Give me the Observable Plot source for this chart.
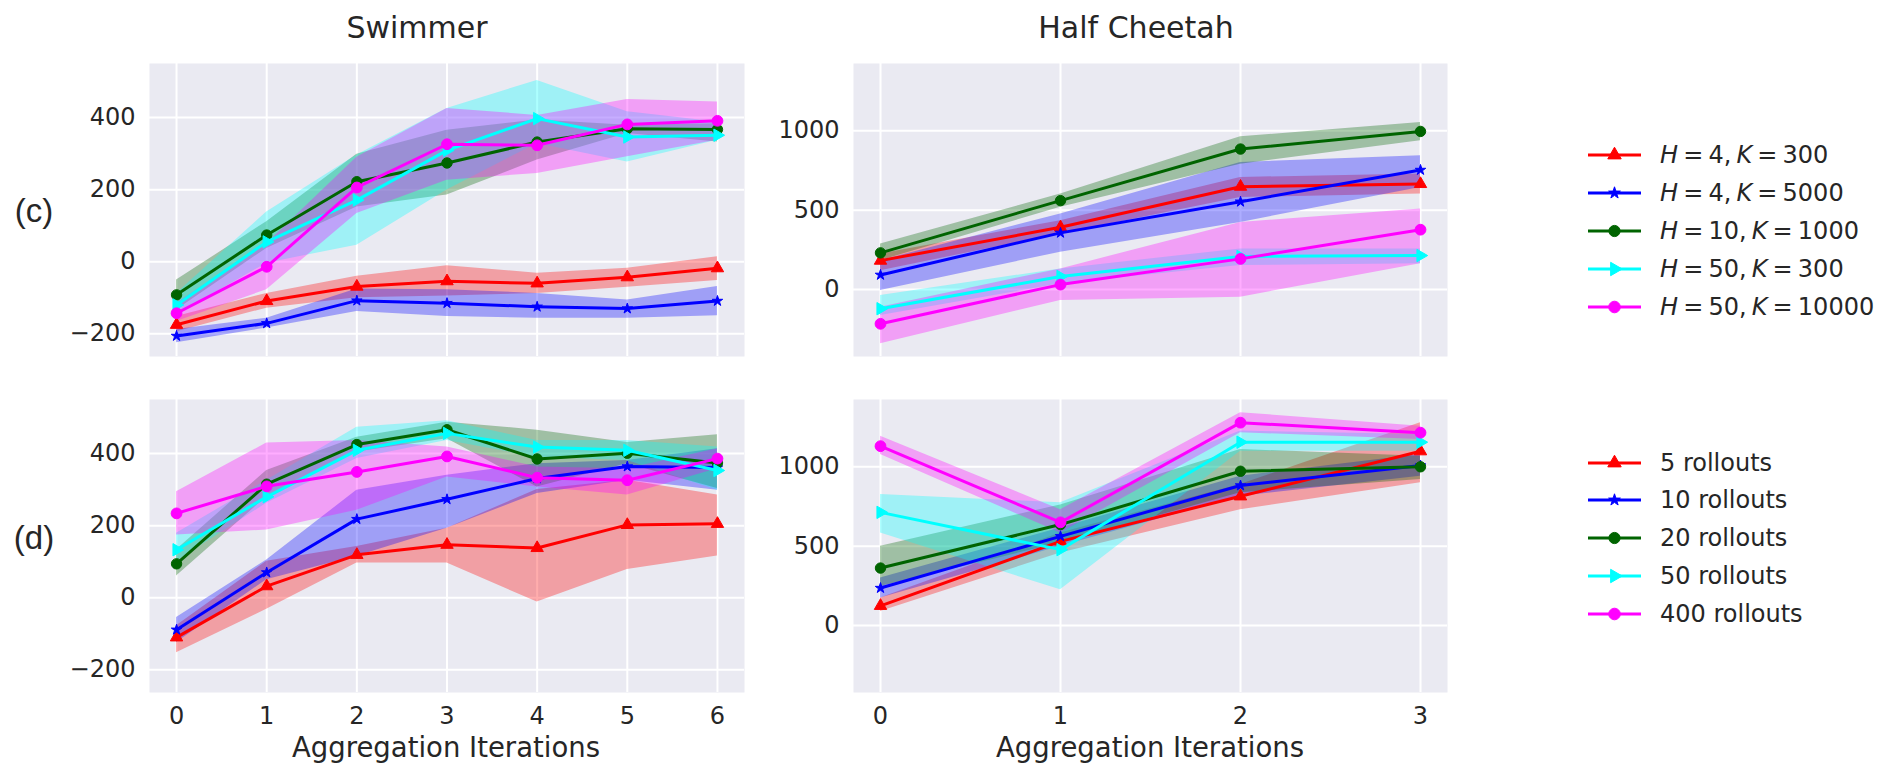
<!DOCTYPE html>
<html>
<head>
<meta charset="utf-8">
<script src="https://cdn.jsdelivr.net/npm/d3@7"></script>
<script src="https://cdn.jsdelivr.net/npm/@observablehq/plot@0.6"></script>
<style>
  body { margin: 0; background: #ffffff; }
  #root { position: relative; width: 1885px; height: 765px; overflow: hidden; font-family: "DejaVu Sans"; color: #262626; background: #ffffff; }
  .abs { position: absolute; white-space: nowrap; line-height: 1; }
  .title { font-size: 30px; transform: translate(-50%, -50%); }
  .xlabel { font-size: 27.5px; transform: translate(-50%, -50%); }
  .rowlabel { font-family: "Liberation Sans"; font-size: 33px; transform: translate(-50%, -50%); }
  .leg { font-size: 24px; display: flex; align-items: center; transform: translateY(-50%); }
  .leg svg { display: block; margin-right: 15px; }
  .math { word-spacing: -2.5px; }
  .panel { position: absolute; }
</style>
</head>
<body>
<div id="root"></div>
<script>
// ---------------- data ----------------
const iterSwimmer = [0, 1, 2, 3, 4, 5, 6];
const iterCheetah = [0, 1, 2, 3];
const ticksSwimmerY = [-200, 0, 200, 400];
const ticksCheetahY = [0, 500, 1000];

const labelsC = ["H = 4, K = 300", "H = 4, K = 5000", "H = 10, K = 1000", "H = 50, K = 300", "H = 50, K = 10000"];
const labelsD = ["5 rollouts", "10 rollouts", "20 rollouts", "50 rollouts", "400 rollouts"];
const seriesColors = ["#ff0000", "#0000ff", "#006400", "#00ffff", "#ff00ff"];

// Swimmer, row (c)
const swimC_mean = [
  [-175, -109, -69, -54, -60, -43, -18],
  [-206, -171, -108, -115, -125, -130, -109],
  [-92, 74, 222, 274, 332, 369, 367],
  [-120, 55, 171, 309, 397, 346, 351],
  [-143, -14, 206, 326, 323, 381, 391]
];
const swimC_lo = [
  [-194, -129, -100, -95, -88, -71, -52],
  [-225, -184, -138, -152, -157, -157, -150],
  [-134, 37, 152, 185, 282, 356, 332],
  [-148, -4, 46, 199, 328, 277, 337],
  [-166, -78, 134, 226, 245, 291, 337]
];
const swimC_hi = [
  [-152, -88, -40, -11, -32, -18, 14],
  [-188, -157, -76, -78, -88, -106, -69],
  [-51, 111, 298, 365, 393, 379, 383],
  [-88, 138, 296, 425, 503, 416, 388],
  [-115, 50, 290, 425, 406, 450, 443]
];

// Swimmer, row (d)
const swimD_mean = [
  [-110, 32, 119, 147, 138, 202, 205],
  [-89, 70, 218, 273, 331, 364, 361],
  [94, 315, 425, 466, 385, 401, 374],
  [133, 280, 409, 456, 418, 409, 353],
  [234, 309, 349, 392, 333, 326, 386]
];
const swimD_lo = [
  [-153, -32, 96, 96, -12, 78, 116],
  [-124, 50, 115, 193, 289, 326, 298],
  [60, 280, 404, 441, 307, 372, 303],
  [101, 262, 386, 436, 390, 381, 298],
  [174, 188, 243, 335, 307, 285, 358]
];
const swimD_hi = [
  [-78, 101, 142, 193, 300, 326, 285],
  [-55, 105, 298, 340, 372, 381, 413],
  [133, 353, 445, 487, 465, 431, 452],
  [179, 326, 473, 491, 436, 436, 418],
  [294, 429, 436, 418, 363, 358, 413]
];

// Half Cheetah, row (c)
const cheetC_mean = [
  [182, 392, 648, 665],
  [92, 357, 553, 753],
  [231, 560, 885, 996],
  [-121, 82, 208, 214],
  [-216, 31, 193, 377]
];
const cheetC_lo = [
  [119, 350, 580, 602],
  [-6, 235, 423, 643],
  [182, 518, 790, 937],
  [-164, 36, 151, 162],
  [-342, -69, -48, 162]
];
const cheetC_hi = [
  [224, 434, 706, 728],
  [182, 476, 801, 843],
  [287, 602, 962, 1052],
  [-38, 130, 256, 256],
  [-111, 130, 423, 508]
];

// Half Cheetah, row (d)
const cheetD_mean = [
  [124, 530, 814, 1098],
  [236, 562, 882, 1008],
  [362, 636, 972, 1000],
  [713, 478, 1155, 1155],
  [1130, 650, 1278, 1215]
];
const cheetD_lo = [
  [88, 457, 730, 899],
  [173, 499, 814, 941],
  [246, 520, 836, 920],
  [583, 225, 1098, 1098],
  [1078, 583, 1215, 1172]
];
const cheetD_hi = [
  [173, 583, 888, 1278],
  [299, 615, 941, 1078],
  [499, 760, 1109, 1067],
  [825, 773, 1225, 1204],
  [1193, 730, 1341, 1256]
];

// ---------------- styling ----------------
const triRight = {
  draw(ctx, size) {
    const y = Math.sqrt(size / (Math.sqrt(3) * 3));
    ctx.moveTo(2 * y, 0);
    ctx.lineTo(-y, -Math.sqrt(3) * y);
    ctx.lineTo(-y, Math.sqrt(3) * y);
    ctx.closePath();
  }
};
const seriesSymbols = [d3.symbolTriangle, d3.symbolStar, d3.symbolCircle, triRight, d3.symbolCircle];
const seriesR = [4.6, 3.3, 5.2, 4.6, 5.4];
const BG = "#EAEAF2";
const fmtTick = d => (d < 0 ? "\u2212" + Math.abs(d) : String(d));

const root = document.getElementById("root");

function addText(cls, text, x, y) {
  const d = document.createElement("div");
  d.className = "abs " + cls;
  d.textContent = text;
  d.style.left = x + "px";
  d.style.top = y + "px";
  root.appendChild(d);
  return d;
}

const M = {left: 100, right: 12, top: 12, bottom: 50};

function makePanel(p) {
  const rows = [];
  p.mean.forEach((arr, s) => arr.forEach((v, i) => rows.push({s, x: p.xs[i], y: v, lo: p.lo[s][i], hi: p.hi[s][i]})));
  const marks = [
    Plot.frame({fill: BG, stroke: "none"}),
    Plot.gridX(p.xs, {stroke: "#ffffff", strokeOpacity: 1, strokeWidth: 2}),
    Plot.gridY(p.yTicks, {stroke: "#ffffff", strokeOpacity: 1, strokeWidth: 2})
  ];
  for (let s = 0; s < 5; s++) {
    marks.push(Plot.areaY(rows.filter(d => d.s === s), {x: "x", y1: "lo", y2: "hi", fill: seriesColors[s], fillOpacity: 0.32}));
  }
  for (let s = 0; s < 5; s++) {
    const d = rows.filter(r => r.s === s);
    marks.push(Plot.line(d, {x: "x", y: "y", stroke: seriesColors[s], strokeWidth: 3}));
    marks.push(Plot.dot(d, {x: "x", y: "y", fill: seriesColors[s], stroke: seriesColors[s], strokeWidth: 1, symbol: seriesSymbols[s], r: seriesR[s]}));
  }
  const svg = Plot.plot({
    width: p.w + M.left + M.right,
    height: p.h + M.top + M.bottom,
    marginLeft: M.left, marginRight: M.right, marginTop: M.top, marginBottom: M.bottom,
    x: {domain: p.xDomain, ticks: p.xs, tickSize: 0, tickPadding: 14, label: null, axis: p.showX ? "bottom" : null, tickFormat: fmtTick},
    y: {domain: p.yDomain, ticks: p.yTicks, tickSize: 0, tickPadding: 14, label: null, tickFormat: fmtTick},
    style: {fontFamily: "DejaVu Sans", fontSize: "24px", color: "#262626", background: "transparent", overflow: "visible"},
    marks
  });
  const wrap = document.createElement("div");
  wrap.className = "panel";
  wrap.style.left = (p.left - M.left) + "px";
  wrap.style.top = (p.top - M.top) + "px";
  wrap.appendChild(svg);
  root.appendChild(wrap);
}

const panels = [
  {left: 149, top: 63, w: 595, h: 293, xs: iterSwimmer, xDomain: [-0.3, 6.3], yDomain: [-263, 550], yTicks: ticksSwimmerY, mean: swimC_mean, lo: swimC_lo, hi: swimC_hi, showX: false},
  {left: 149, top: 399, w: 595, h: 293, xs: iterSwimmer, xDomain: [-0.3, 6.3], yDomain: [-263, 550], yTicks: ticksSwimmerY, mean: swimD_mean, lo: swimD_lo, hi: swimD_hi, showX: true},
  {left: 853, top: 63, w: 594, h: 293, xs: iterCheetah, xDomain: [-0.15, 3.15], yDomain: [-422, 1424], yTicks: ticksCheetahY, mean: cheetC_mean, lo: cheetC_lo, hi: cheetC_hi, showX: false},
  {left: 853, top: 399, w: 594, h: 293, xs: iterCheetah, xDomain: [-0.15, 3.15], yDomain: [-422, 1424], yTicks: ticksCheetahY, mean: cheetD_mean, lo: cheetD_lo, hi: cheetD_hi, showX: true}
];
panels.forEach(makePanel);

// titles and labels
addText("title", "Swimmer", 417, 28);
addText("title", "Half Cheetah", 1136, 28);
addText("xlabel", "Aggregation Iterations", 446, 748);
addText("xlabel", "Aggregation Iterations", 1150, 748);
addText("rowlabel", "(c)", 34, 210);
addText("rowlabel", "(d)", 34, 537);

// legends
function legendLabel(text) {
  // italicise the H and K variables
  const span = document.createElement("span");
  span.className = "math";
  text.split(/(H|K)/).forEach(part => {
    if (part === "H" || part === "K") {
      const i = document.createElement("i");
      i.textContent = part;
      span.appendChild(i);
    } else if (part.length) {
      span.appendChild(document.createTextNode(part));
    }
  });
  return span;
}

function addLegend(labels, ys, math) {
  labels.forEach((lab, s) => {
    const row = document.createElement("div");
    row.className = "abs leg";
    row.style.left = "1585px";
    row.style.top = ys[s] + "px";
    const ns = "http://www.w3.org/2000/svg";
    const svg = document.createElementNS(ns, "svg");
    svg.setAttribute("width", 60);
    svg.setAttribute("height", 30);
    const line = document.createElementNS(ns, "line");
    line.setAttribute("x1", 3); line.setAttribute("x2", 56);
    line.setAttribute("y1", 15); line.setAttribute("y2", 15);
    line.setAttribute("stroke", seriesColors[s]);
    line.setAttribute("stroke-width", 3);
    svg.appendChild(line);
    const path = document.createElementNS(ns, "path");
    const r = seriesR[s] + 0.4;
    path.setAttribute("d", d3.symbol(seriesSymbols[s], r * r * Math.PI)());
    path.setAttribute("transform", "translate(29.5,15)");
    path.setAttribute("fill", seriesColors[s]);
    path.setAttribute("stroke", seriesColors[s]);
    svg.appendChild(path);
    row.appendChild(svg);
    row.appendChild(math ? legendLabel(lab) : document.createTextNode(lab));
    root.appendChild(row);
  });
}
addLegend(labelsC, [155, 193, 231, 269, 307], true);
addLegend(labelsD, [463, 500, 538, 576, 614], false);
</script>
</body>
</html>
